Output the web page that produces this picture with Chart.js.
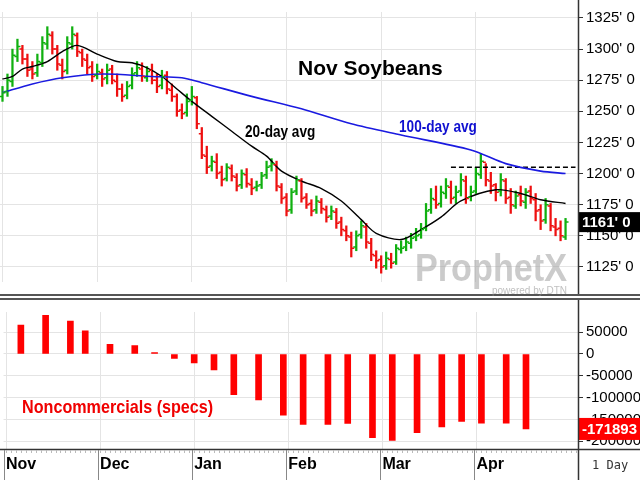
<!DOCTYPE html>
<html><head><meta charset="utf-8">
<script src="https://cdn.jsdelivr.net/npm/chart.js@4.4.0/dist/chart.umd.min.js"></script>
<style>
body{margin:0;width:640px;height:480px;background:#fff;position:relative;overflow:hidden;font-family:"Liberation Sans",Arial,sans-serif}
#c1{position:absolute;left:0;top:0}
#c2{position:absolute;left:0;top:300px}
.sep{position:absolute;left:0;width:640px;height:2px;background:#555}
.t{position:absolute;white-space:nowrap}
</style></head><body>
<canvas id="c1" width="640" height="294"></canvas>
<div class="sep" style="top:294px"></div><div class="sep" style="top:298px"></div>
<canvas id="c2" width="640" height="180"></canvas>
<div class="t" style="left:298px;top:56px;font:bold 21px 'Liberation Sans',Arial">Nov Soybeans</div>
<div class="t" style="left:245px;top:123px;font:bold 16px 'Liberation Sans',Arial;color:#000;transform:scaleX(0.85);transform-origin:left">20-day avg</div>
<div class="t" style="left:399px;top:118px;font:bold 16px 'Liberation Sans',Arial;color:#1010d0;transform:scaleX(0.85);transform-origin:left">100-day avg</div>
<div class="t" style="left:415px;top:247px;font:bold 38px 'Liberation Sans',Arial;color:rgba(160,160,160,0.55);transform:scaleX(0.9);transform-origin:left">ProphetX</div>
<div class="t" style="left:492px;top:285px;font:10px 'Liberation Sans',Arial;color:rgba(150,150,150,0.6)">powered by DTN</div>
<div class="t" style="left:22px;top:396px;font:bold 19px 'Liberation Sans',Arial;color:#f00000;transform:scaleX(0.85);transform-origin:left">Noncommercials (specs)</div>
<div class="t" style="left:592px;top:458px;font:12px 'DejaVu Sans Mono',monospace;color:#333">1 Day</div>
<script>
const opens=[1262,1266,1274,1294,1300,1292,1284,1281,1289,1304,1311,1300,1287,1283,1304,1311,1297,1291,1286,1279,1281,
1277,1284,1274,1268,1263,1271,1281,1284,1277,1283,1275,1271,1279,1267,1262,1251,1249,1259,1261,
1232,1214,1206,1209,1201,1196,1204,1197,1191,1199,1191,1189,1191,1199,1206,1207,1189,1181,1171,1186,1194,
1181,1176,1171,1177,1171,1166,1169,1161,1154,1149,1141,1151,1157,1144,1134,1131,1126,1131,1129,
1139,1141,1144,1149,1151,1156,1171,1179,1176,1184,1189,1181,1186,1194,1181,1186,1199,1209,1194,1191,1186,
1194,1181,1174,1183,1177,1186,1179,1171,1163,1174,1157,1156,1149];
const highs=[1270,1280,1300,1308,1303,1296,1290,1296,1310,1318,1314,1303,1292,1310,1318,1313,1300,1296,1290,1288,1284,
1288,1287,1280,1272,1274,1285,1290,1289,1286,1288,1280,1283,1282,1272,1264,1256,1264,1270,1262,
1237,1222,1214,1216,1206,1208,1207,1200,1203,1204,1196,1194,1201,1210,1212,1210,1192,1184,1188,1198,1196,
1184,1179,1182,1180,1174,1174,1172,1165,1158,1153,1154,1162,1160,1148,1138,1134,1137,1136,1143,
1146,1149,1152,1156,1160,1176,1188,1190,1190,1196,1194,1190,1200,1198,1190,1205,1216,1208,1201,1192,1200,
1196,1188,1186,1190,1188,1190,1184,1175,1180,1176,1164,1162,1164];
const lows=[1258,1262,1270,1290,1288,1278,1276,1278,1286,1300,1296,1283,1276,1280,1300,1294,1286,1280,1274,1276,1270,
1272,1272,1262,1258,1260,1268,1278,1274,1274,1272,1265,1268,1264,1258,1246,1244,1246,1255,1236,
1212,1200,1202,1196,1190,1194,1194,1186,1188,1189,1183,1186,1188,1196,1202,1186,1176,1166,1168,1183,1177,
1172,1166,1168,1168,1161,1163,1156,1150,1146,1133,1138,1148,1140,1130,1124,1120,1123,1124,1127,
1136,1138,1140,1146,1148,1154,1168,1172,1173,1180,1176,1176,1182,1176,1178,1184,1196,1190,1184,1178,1182,
1176,1168,1172,1174,1172,1176,1162,1155,1160,1154,1150,1146,1147];
const closes=[1265,1275,1295,1302,1292,1283,1280,1290,1305,1312,1300,1288,1282,1305,1312,1298,1292,1285,1278,1282,1276,
1283,1275,1268,1262,1270,1280,1285,1278,1282,1275,1270,1278,1268,1262,1250,1248,1258,1262,1240,
1215,1205,1210,1200,1195,1205,1198,1190,1200,1192,1188,1190,1198,1205,1208,1190,1180,1170,1185,1195,1180,
1175,1170,1178,1172,1165,1170,1160,1155,1150,1140,1150,1158,1145,1135,1130,1125,1132,1128,1140,
1140,1145,1148,1150,1155,1170,1180,1175,1185,1190,1180,1185,1195,1180,1185,1200,1210,1195,1190,1185,1195,
1180,1175,1182,1178,1185,1180,1170,1162,1175,1158,1155,1150,1161];
const ma20Idx=[0,2,4,6,9,12,15,19,23,26,29,32,35,38,42,46,50,53,56,60,64,68,72,75,80,84,88,92,99,104,108,113];
const ma20Val=[1276,1278,1284,1286,1290,1298,1303,1296,1290,1289,1285,1278,1268,1258,1246,1234,1222,1214,1202,1194,1188,1178,1163,1152,1147,1155,1165,1178,1187,1184,1179,1176];
const ma100Idx=[0,6,12,20,30,36,40,50,60,70,80,94,101,108,113];
const ma100Val=[1265,1272,1277,1280,1278,1277,1273,1262,1252,1240,1231,1219,1208,1202,1200];
const resistIdx=[90,115];
const resistVal=[1205,1205];
const cotIdx=[3,8,13,16,21,26,30,34,38,42,46,51,56,60,65,69,74,78,83,88,92,96,101,105];
const cotVal=[66500,88700,75200,53100,22200,19000,3200,-10300,-20600,-36400,-93400,-105300,-140200,-161600,-161600,-159200,-191700,-198000,-180600,-167100,-154400,-158400,-158400,-171893];
const monthNames=['Nov','Dec','Jan','Feb','Mar','Apr'];
const monthStarts=[0,19,38,57,76,95];
const priceTicks=[1125,1150,1175,1200,1225,1250,1275,1300,1325];
const cotTicks=[-200000,-150000,-100000,-50000,0,50000];
const NLAB=116;
const labels=[];for(let i=0;i<NLAB;i++)labels.push(String(i));
function sparse(idx,val){const a=new Array(NLAB).fill(null);idx.forEach((k,j)=>a[k]=val[j]);return a;}
const hl=closes.map((c,i)=>[lows[i],highs[i]]);
const barCol=closes.map((c,i)=>c>=opens[i]?'#10b010':'#ee1010');
const gridCol='#e4e4e4';
const xGrid={color:(ctx)=>monthStarts.includes(ctx.index)?gridCol:'rgba(0,0,0,0)',drawTicks:false,offset:false};
const tickPlugin={id:'ohlc',afterDatasetsDraw(ch){
 const x=ch.scales.x,y=ch.scales.y,c=ch.ctx;c.save();c.lineWidth=1.5;
 closes.forEach((v,i)=>{const px=x.getPixelForValue(i);c.strokeStyle=barCol[i];
  c.beginPath();c.moveTo(px-3,y.getPixelForValue(opens[i]));c.lineTo(px,y.getPixelForValue(opens[i]));
  c.moveTo(px,y.getPixelForValue(v));c.lineTo(px+3,y.getPixelForValue(v));c.stroke();});
 const last=closes[closes.length-1],py=y.getPixelForValue(last);
 c.fillStyle='#000';c.fillRect(578,py-10,62,20);c.fillStyle='#fff';c.font='bold 15px "Liberation Sans",Arial';
 c.textBaseline='middle';c.fillText(last+"' 0",582,py+1);
 c.strokeStyle='#333';c.lineWidth=1.5;c.beginPath();c.moveTo(578.5,0);c.lineTo(578.5,294);c.stroke();
 c.restore();}};
new Chart(document.getElementById('c1'),{
 data:{labels,datasets:[
  {type:'line',data:sparse(ma100Idx,ma100Val),borderColor:'#1a1ae0',borderWidth:1.6,pointRadius:0,spanGaps:true,tension:0.3},
  {type:'line',data:sparse(ma20Idx,ma20Val),borderColor:'#000',borderWidth:1.4,pointRadius:0,spanGaps:true,tension:0.3},
  {type:'line',data:sparse(resistIdx,resistVal),borderColor:'#000',borderWidth:1.5,borderDash:[5,3],pointRadius:0,spanGaps:true},
  {type:'bar',data:hl,backgroundColor:barCol,barThickness:1.6,grouped:false}
 ]},
 options:{responsive:false,animation:false,events:[],layout:{padding:{top:0,bottom:2,left:0,right:0}},
  plugins:{legend:{display:false},tooltip:{enabled:false}},
  scales:{
   x:{type:'category',offset:true,grid:xGrid,border:{display:false},ticks:{display:false},afterFit(s){s.height=0;}},
   y:{position:'right',min:1112.9,max:1329.8,afterBuildTicks(s){s.ticks=priceTicks.map(v=>({value:v}));},
    grid:{color:gridCol,drawTicks:true,tickLength:5,tickColor:'#333'},border:{display:false},
    ticks:{color:'#000',padding:3,font:{family:'"Liberation Sans",Arial',size:15},callback:v=>v+"' 0"},
    afterFit(s){s.width=62;}}
  }},
 plugins:[tickPlugin]});
const cotPlugin={id:'cot',afterDatasetsDraw(ch){
 const y=ch.scales.y,c=ch.ctx;c.save();
 const last=cotVal[cotVal.length-1],py=y.getPixelForValue(last);
 c.fillStyle='#ff0000';c.fillRect(578,py-11,62,22);c.fillStyle='#fff';c.font='bold 15px "Liberation Sans",Arial';
 c.textBaseline='middle';c.fillText(String(last),582,py+1);
 c.strokeStyle='#333';c.lineWidth=1.5;c.beginPath();c.moveTo(578.5,0);c.lineTo(578.5,180);c.moveTo(0,149.5);c.lineTo(640,149.5);c.stroke();
 const x=ch.scales.x;c.strokeStyle='#bbb';c.lineWidth=1;c.beginPath();
 for(let i=0;i<NLAB;i++){const px=Math.round(x.getPixelForValue(i))+0.5;c.moveTo(px,150);c.lineTo(px,153);}c.stroke();
 c.strokeStyle='#888';c.beginPath();monthStarts.forEach(m=>{const px=Math.round(x.getPixelForValue(m)-2.5)+0.5;c.moveTo(px,150);c.lineTo(px,180);});c.stroke();
 c.restore();}};
new Chart(document.getElementById('c2'),{
 data:{labels,datasets:[{type:'bar',data:sparse(cotIdx,cotVal),backgroundColor:'#ff0000',barThickness:6,skipNull:true}]},
 options:{responsive:false,animation:false,events:[],layout:{padding:{top:5,bottom:0,left:0,right:0}},
  plugins:{legend:{display:false},tooltip:{enabled:false}},
  scales:{
   x:{type:'category',offset:true,grid:xGrid,border:{display:false},
    ticks:{autoSkip:false,maxRotation:0,align:'start',padding:6,color:'#000',font:{family:'"Liberation Sans",Arial',size:16,weight:'bold'},
     callback:(v,i)=>{const k=monthStarts.indexOf(i);return k>=0?monthNames[k]:'';}},
    afterFit(s){s.height=31;}},
   y:{position:'right',min:-217900,max:96300,afterBuildTicks(s){s.ticks=cotTicks.map(v=>({value:v}));},
    grid:{color:gridCol,tickLength:5,tickColor:'#333'},border:{display:false},
    ticks:{color:'#000',padding:3,font:{family:'"Liberation Sans",Arial',size:15},callback:v=>String(v)},
    afterFit(s){s.width=62;}}
  }},
 plugins:[cotPlugin]});
</script></body></html>
